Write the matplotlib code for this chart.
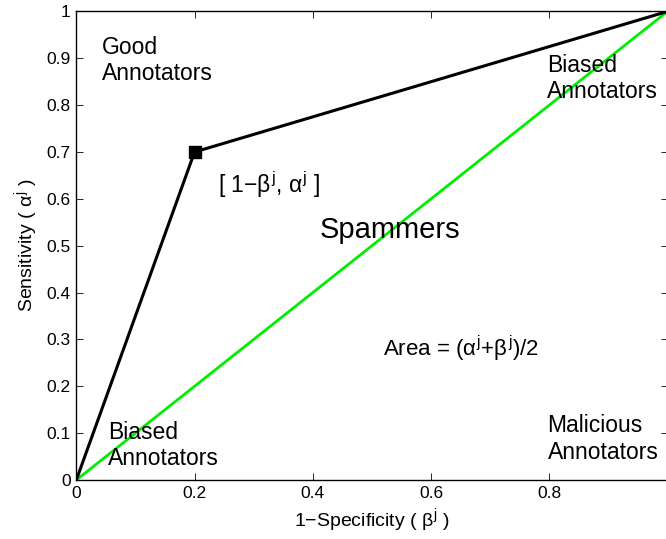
import matplotlib
matplotlib.use('Agg')
import matplotlib.pyplot as plt

plt.rcParams['font.family'] = ['Liberation Sans', 'DejaVu Sans']
plt.rcParams['mathtext.fontset'] = 'custom'
plt.rcParams['mathtext.rm'] = 'Liberation Sans'
plt.rcParams['mathtext.it'] = 'Liberation Sans'
plt.rcParams['mathtext.bf'] = 'Liberation Sans:bold'

# annotator curve: origin -> operating point -> (1, 1)
curve_x = [0, 0.2, 1]
curve_y = [0, 0.7, 1]
# chance diagonal
diag_x = [0, 1]
diag_y = [0, 1]
point_x = 0.2
point_y = 0.7

xticks = [0, 0.2, 0.4, 0.6, 0.8]
xticklabels = ['0', '0.2', '0.4', '0.6', '0.8']
yticks = [0, 0.1, 0.2, 0.3, 0.4, 0.5, 0.6, 0.7, 0.8, 0.9, 1]
yticklabels = ['0', '0.1', '0.2', '0.3', '0.4', '0.5', '0.6', '0.7', '0.8', '0.9', '1']

fig = plt.figure(figsize=(6.66, 5.39), dpi=100)
ax = fig.add_axes([0.1146, 0.1095, 0.8877, 0.8693])

ax.plot(diag_x, diag_y, color='#00ee00', lw=2, zorder=2)
ax.plot(curve_x, curve_y, color='k', lw=2.2, zorder=3)
ax.plot(point_x, point_y, 's', color='k', ms=8, zorder=4)

ax.set_xlim(0, 1)
ax.set_ylim(0, 1)
ax.set_xticks(xticks)
ax.set_xticklabels(xticklabels)
ax.set_yticks(yticks)
ax.set_yticklabels(yticklabels)
ax.tick_params(direction='in', length=5, width=0.6, top=True, right=True,
               labelsize=12.5, pad=4)
for s in ax.spines.values():
    s.set_linewidth(1.0)

ax.set_xlabel(r'1$-$Specificity ( $\beta^j$ )', fontsize=14, labelpad=4)
ax.set_ylabel(r'Sensitivity ( $\alpha^j$ )', fontsize=14, labelpad=5)

fs = 16.5
ax.text(0.043, 0.8536, 'Good\nAnnotators', fontsize=fs, va='baseline', linespacing=1.15)
ax.text(0.796, 0.815, 'Biased\nAnnotators', fontsize=fs, va='baseline', linespacing=1.15)
ax.text(0.054, 0.032, 'Biased\nAnnotators', fontsize=fs, va='baseline', linespacing=1.15)
ax.text(0.797, 0.045, 'Malicious\nAnnotators', fontsize=fs, va='baseline', linespacing=1.2)
ax.text(0.412, 0.516, 'Spammers', fontsize=21, va='baseline')
ax.text(0.24, 0.612, r'[ 1$-\beta^j$, $\alpha^j$ ]', fontsize=fs, va='baseline')
ax.text(0.519, 0.265, r'Area = ($\alpha^j$+$\beta^j$)/2', fontsize=16, va='baseline')

fig.savefig('out.png', dpi=100)
